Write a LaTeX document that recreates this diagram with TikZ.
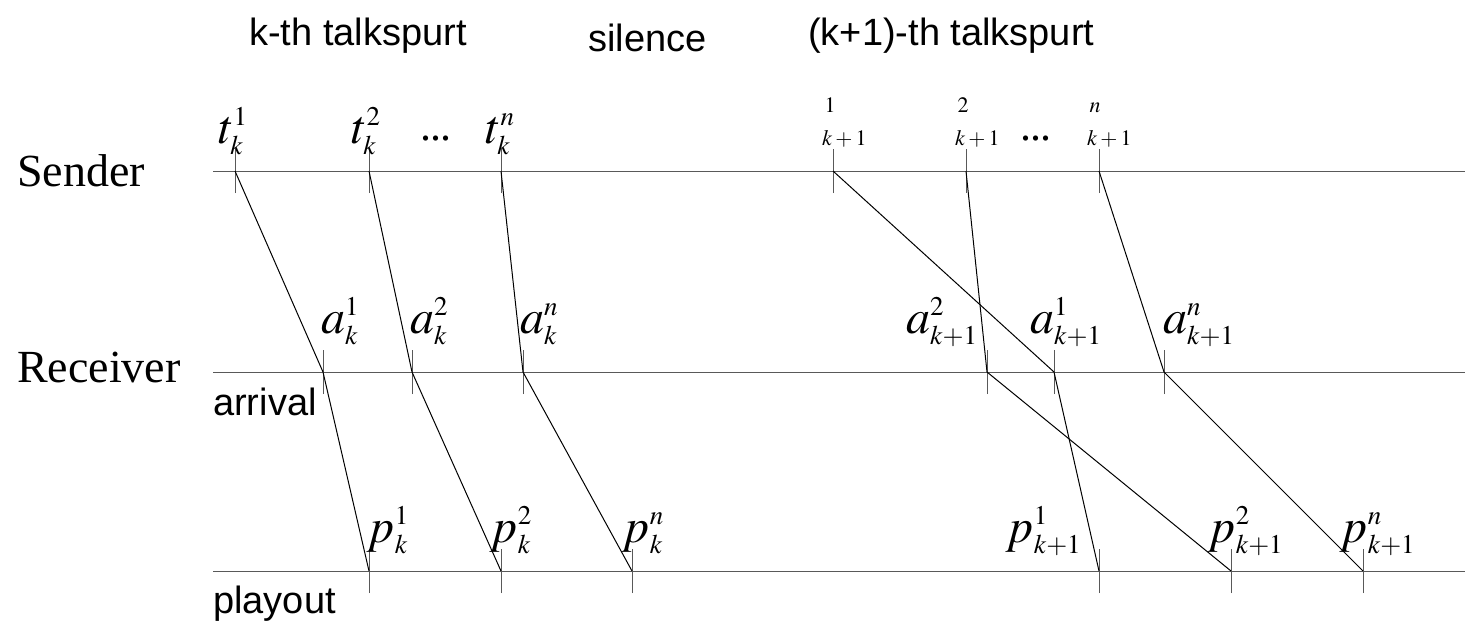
\documentclass[tikz,border=0pt]{standalone}
\usepackage{mathptmx}
\usepackage{fontspec}
\setmainfont{Liberation Serif}
\newfontfamily\sansfont{Liberation Sans}
\DeclareMathSizes{48}{48}{27}{20}

\tikzset{
  timeline/.style={draw=black!65, line width=1pt},
  tickmark/.style={draw=black!65, line width=1pt},
  packet/.style={line width=1pt},
  lbl/.style={anchor=base west, inner sep=0pt, font=\fontsize{48}{52}\selectfont},
  smalllbl/.style={anchor=base west, inner sep=0pt, align=left, font=\fontsize{22}{33}\selectfont},
  dotslbl/.style={anchor=base, inner sep=0pt, font=\fontsize{44}{48}\selectfont},
  phase/.style={anchor=base west, inner sep=0pt, font=\sansfont\fontsize{38}{40}\selectfont},
  rowname/.style={anchor=base west, inner sep=0pt, font=\fontsize{46}{50}\selectfont},
}
\newcommand{\lowdots}{.\kern-1pt.\kern-1pt.}

\begin{document}
\begin{tikzpicture}[x=1pt, y=-1pt]
  \useasboundingbox (0,0) rectangle (1465,622);

  % Tick positions: send, arrival, playout
  \foreach \x [count=\i] in {235,369,501,833,966,1099} \coordinate (s\i) at (\x,171);
  \foreach \x [count=\i] in {323,412,523,1054,987,1164} \coordinate (r\i) at (\x,372);
  \foreach \x [count=\i] in {369,501,632,1099,1231,1363} \coordinate (q\i) at (\x,571);

  % Time lines
  \coordinate (sendL) at (213,171);  \coordinate (sendR) at (1465,171);
  \coordinate (arrL) at (213,372);   \coordinate (arrR) at (1465,372);
  \coordinate (playL) at (213,571);  \coordinate (playR) at (1465,571);
  \draw[timeline] (sendL) -- (sendR);
  \draw[timeline] (arrL) -- (arrR);
  \draw[timeline] (playL) -- (playR);

  % Ticks
  \foreach \row in {s,r,q}
    \foreach \i in {1,...,6}
      \draw[tickmark] ([yshift=-22pt]\row\i) -- ([yshift=22pt]\row\i);

  % Packets
  \foreach \i in {1,...,6} \draw[packet] (s\i) -- (r\i) -- (q\i);

  % Phases
  \node[phase] (talkk) at (249,45) {k-th talkspurt};
  \node[phase] (silence) at (588,51) {silence};
  \node[phase] (talkkk) at (808,45) {(k+1)-th talkspurt};

  % Row names
  \node[rowname] (sender) at (17,186) {Sender};
  \node[rowname] (receiver) at (17,382) {Receiver};
  \node[phase] (arrival) at (213,415) {arrival};
  \node[phase] (playout) at (213,613) {playout};

  % Send times
  \node[lbl] (t1) at (218,143) {$t_k^1$};
  \node[lbl] (t2) at (351,143) {$t_k^2$};
  \node[lbl] (tn) at (485,143) {$t_k^n$};
  \node[dotslbl] (dotsk) at (436,140) {\lowdots};
  \node[smalllbl] (u1) at (822,145) {$\,1$\\$k+1$};
  \node[smalllbl] (u2) at (955,145) {$\,2$\\$k+1$};
  \node[smalllbl] (un) at (1087,145) {$\,n$\\$k+1$};
  \node[dotslbl] (dotskk) at (1036,140) {\lowdots};

  % Arrival times
  \node[lbl] (a1) at (321,333) {$a_k^1$};
  \node[lbl] (a2) at (410,333) {$a_k^2$};
  \node[lbl] (an) at (520,333) {$a_k^n$};
  \node[lbl] (b2) at (906,333) {$a_{k+1}^2$};
  \node[lbl] (b1) at (1030,333) {$a_{k+1}^1$};
  \node[lbl] (bn) at (1163,333) {$a_{k+1}^n$};

  % Playout times
  \node[lbl] (p1) at (367,542) {$p_k^1$};
  \node[lbl] (p2) at (490,542) {$p_k^2$};
  \node[lbl] (pn) at (622,542) {$p_k^n$};
  \node[lbl] (o1) at (1006,542) {$p_{k+1}^1$};
  \node[lbl] (o2) at (1208,542) {$p_{k+1}^2$};
  \node[lbl] (on) at (1340,542) {$p_{k+1}^n$};
\end{tikzpicture}
\end{document}
